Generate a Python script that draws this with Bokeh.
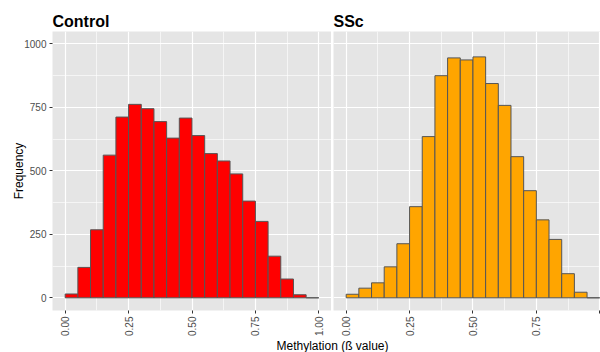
import math
from bokeh.plotting import figure
from bokeh.layouts import row, column
from bokeh.models import FixedTicker, Range1d, ColumnDataSource
from bokeh.embed import file_html
from bokeh.resources import INLINE
from bokeh.core.properties import value

# ---- data -------------------------------------------------------------
bin_left = [0.00, 0.05, 0.10, 0.15, 0.20, 0.25, 0.30, 0.35, 0.40, 0.45,
            0.50, 0.55, 0.60, 0.65, 0.70, 0.75, 0.80, 0.85, 0.90, 0.95]
bin_width = 0.05
control_counts = [15, 120, 268, 562, 712, 762, 745, 694, 629, 708,
                  639, 568, 539, 488, 381, 301, 164, 74, 12, 0]
ssc_counts = [14, 38, 59, 122, 213, 359, 635, 875, 945, 937,
              949, 844, 758, 556, 422, 307, 230, 95, 22, 0]
panel_titles = ["Control", "SSc"]
x_ticks = [0.0, 0.25, 0.5, 0.75, 1.0]
x_minor = [0.125, 0.375, 0.625, 0.875]
y_ticks = [0, 250, 500, 750, 1000]
y_minor = [125, 375, 625, 875]
x_label = "Methylation (ß value)"
y_label = "Frequency"

FONT = "Liberation Sans"
H = 338


def panel(title, counts, color, width, left_border, x_end, show_y):
    p = figure(width=width, height=H, output_backend="svg", toolbar_location=None,
               x_range=Range1d(-0.05, x_end), y_range=Range1d(-50, 1049),
               min_border_left=left_border, min_border_right=0,
               min_border_top=31, min_border_bottom=25)
    src = ColumnDataSource(dict(left=bin_left,
                                right=[b + bin_width for b in bin_left],
                                top=counts))
    p.quad(left="left", right="right", bottom=0, top="top", source=src,
           fill_color=color, line_color="#555555", line_width=1)
    p.background_fill_color = "#E5E5E5"
    p.border_fill_color = "white"
    p.outline_line_color = None
    p.title.text = title
    p.title.text_font = FONT
    p.title.text_font_size = "16px"
    p.title.text_font_style = "bold"
    p.title.text_color = "black"
    p.title.align = "left"
    p.title.standoff = 3
    p.title.offset = 0

    p.xaxis.ticker = FixedTicker(ticks=x_ticks, minor_ticks=x_minor)
    p.yaxis.ticker = FixedTicker(ticks=y_ticks, minor_ticks=y_minor)
    for ax in (p.xaxis, p.yaxis):
        ax.axis_line_color = None
        ax.major_tick_line_color = "#333333"
        ax.major_tick_out = 3
        ax.major_tick_in = 0
        ax.minor_tick_line_color = None
        ax.major_label_text_font = FONT
        ax.major_label_text_font_size = "10px"
        ax.major_label_text_color = "#4D4D4D"
        ax.major_label_standoff = 2
    p.xaxis.major_label_orientation = math.pi / 2
    p.xaxis.major_label_overrides = {0: "0.00", 0.25: "0.25", 0.5: "0.50",
                                     0.75: "0.75", 1: "1.00" if show_y else ""}
    if show_y:
        p.yaxis.axis_label = y_label
        p.yaxis.axis_label_text_font = FONT
        p.yaxis.axis_label_text_font_size = "12px"
        p.yaxis.axis_label_text_font_style = "normal"
        p.yaxis.axis_label_text_color = "black"
        p.yaxis.axis_label_standoff = -5
    else:
        p.yaxis.visible = False

    p.xgrid.grid_line_color = "white"
    p.ygrid.grid_line_color = "white"
    p.xgrid.grid_line_width = 1.2
    p.ygrid.grid_line_width = 1.2
    p.xgrid.minor_grid_line_color = "white"
    p.ygrid.minor_grid_line_color = "white"
    p.xgrid.minor_grid_line_width = 0.6
    p.ygrid.minor_grid_line_width = 0.6
    return p


p1 = panel(panel_titles[0], control_counts, "#FF0000", 331, 52, 1.05, True)
p2 = panel(panel_titles[1], ssc_counts, "#FFA500", 269, 2, 1.003, False)

# shared x-axis title strip
p3 = figure(width=600, height=352 - H, output_backend="svg", toolbar_location=None,
            x_range=Range1d(0, 1), y_range=Range1d(0, 1),
            min_border=0, min_border_left=64, min_border_right=0)
p3.axis.visible = False
p3.grid.visible = False
p3.outline_line_color = None
p3.text(x=[0.5], y=[0.5], text=[x_label], text_align="center",
        text_baseline="middle", text_font=value(FONT), text_font_size="12px",
        text_color="black")

layout = column(row(p1, p2), p3)
open("out.html", "w").write(file_html(layout, INLINE))
